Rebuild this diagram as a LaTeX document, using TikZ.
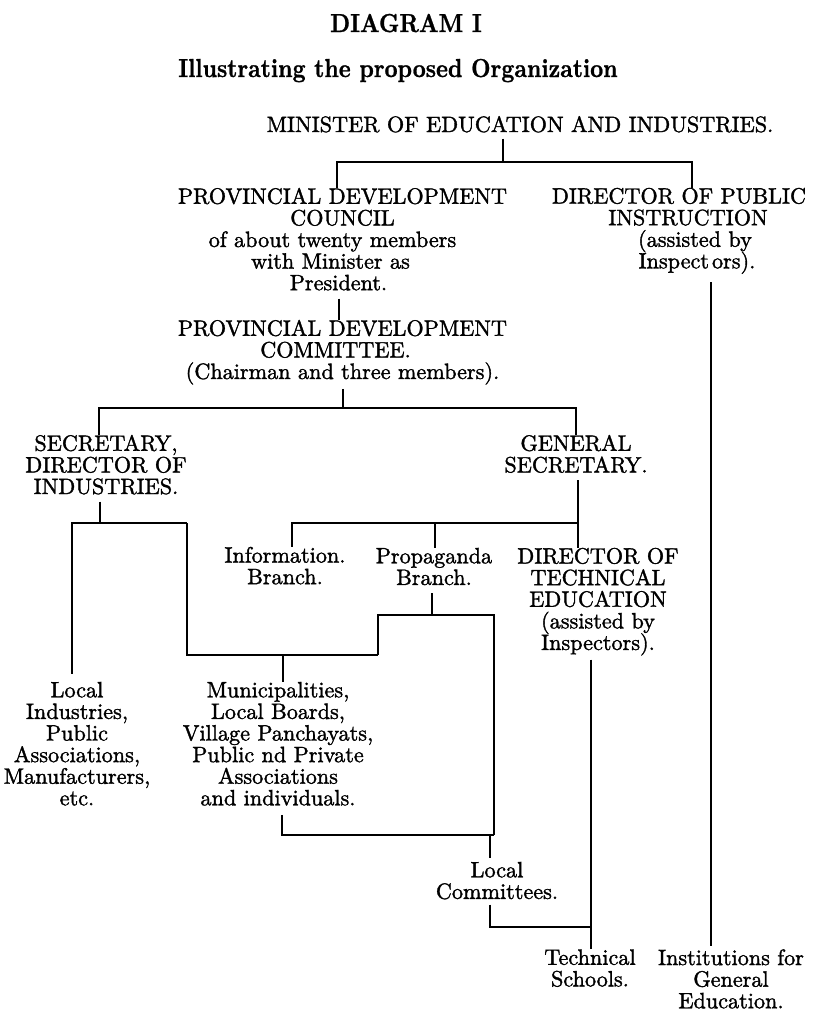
\documentclass[tikz,border=0pt]{standalone}
\usepackage{fontspec}
\newfontfamily\bodyrm{lmroman10-regular.otf}[FakeBold=1.5]
\newfontfamily\titlebf{lmroman10-bold.otf}[FakeBold=1]
\usetikzlibrary{calc}
\tikzset{
  body/.style={inner sep=0pt, align=center, font=\bodyrm\fontsize{22.2}{21.6}\selectfont},
  heading/.style={anchor=base, inner sep=0pt, font=\titlebf\fontsize{26}{28}\selectfont},
  link/.style={line width=1.1pt, line cap=butt},
}
\begin{document}
\lineskiplimit=-30pt
\begin{tikzpicture}[x=1pt,y=-1pt]
\useasboundingbox (0,0) rectangle (816,1013);
% titles
\node[heading] (title) at (406,32) {\scalebox{0.87}[1]{DIAGRAM I}};
\node[heading] (sub) at (398,77) {\scalebox{0.87}[1]{Illustrating the proposed Organization}};
% nodes
\node[body, anchor=base] (min) at (520,132) {MINISTER OF EDUCATION AND INDUSTRIES.};
\node[body, anchor=north] (pdc) at (342.5,187.7) {PROVINCIAL DEVELOPMENT\\COUNCIL\\\hspace*{-20pt}of about twenty members\\\hspace*{-24pt}with Minister as\\\hspace*{-8pt}President.};
\node[body, anchor=north] (dpi) at (679,187.7) {DIRECTOR OF PUBLIC\\\hspace*{18pt}INSTRUCTION\\\hspace*{32pt}(assisted by\\\hspace*{36pt}Inspect\hspace{3pt}ors).};
\node[body, anchor=north] (pdcom) at (342.5,319.7) {PROVINCIAL DEVELOPMENT\\\hspace*{-14pt}COMMITTEE.\\(Chairman and three members).};
\node[body, anchor=north] (sec) at (106,434.7) {SECRETARY,\\DIRECTOR OF\\INDUSTRIES.};
\node[body, anchor=north] (gen) at (576,434.7) {GENERAL\\SECRETARY.};
\node[body, anchor=north] (info) at (285,546.7) {Information.\\Branch.};
\node[body, anchor=north] (prop) at (434,547.7) {Propaganda\\Branch.};
\node[body, anchor=north] (dte) at (598,547.7) {DIRECTOR OF\\TECHNICAL\\EDUCATION\\(assisted by\\Inspectors).};
\node[body, anchor=north] (locind) at (77,681.7) {Local\\Industries,\\Public\\Associations,\\Manufacturers,\\etc.};
\node[body, anchor=north] (muni) at (278,681.7) {Municipalities,\\Local Boards,\\Village Panchayats,\\Public nd Private\\Associations\\and individuals.};
\node[body, anchor=north] (loccom) at (497,861.7) {Local\\Committees.};
\node[body, anchor=north] (tech) at (590,949.2) {Technical\\Schools.};
\node[body, anchor=north] (inst) at (731,949.2) {Institutions for\\General\\Education.};
% junction coordinates
\coordinate (j1) at (503,162);
\coordinate (j1l) at (337,162);
\coordinate (j1r) at (692,162);
\coordinate (k1) at (339,300);
\coordinate (j2) at (343,408);
\coordinate (j2l) at (99,408);
\coordinate (j2r) at (576,408);
\coordinate (j3) at (100,523);
\coordinate (j3l) at (72,523);
\coordinate (j3r) at (187,523);
\coordinate (j4l) at (187,655);
\coordinate (j4) at (283,655);
\coordinate (j4r) at (378,655);
\coordinate (g1) at (578,523);
\coordinate (g1l) at (292,523);
\coordinate (gp) at (435,523);
\coordinate (p1) at (432,615);
\coordinate (p1l) at (378,615);
\coordinate (p1r) at (494,615);
\coordinate (m1) at (282,835);
\coordinate (m1r) at (494,835);
\coordinate (lc) at (490,835);
\coordinate (t1) at (490,927);
\coordinate (t1r) at (591,927);
\coordinate (ip) at (711,600);
% connectors
\draw[link, shorten <=6pt] (min.south -| j1) -- (j1);
\draw[link] (pdc.north -| j1l) -- (j1l) -- (j1r) -- (dpi.north -| j1r);
\draw[link, shorten <=8pt] (pdc.south -| k1) -- (pdcom.north -| k1);
\draw[link, shorten <=4pt] (pdcom.south -| j2) -- (j2);
\draw[link] (sec.north -| j2l) -- (j2l) -- (j2r) -- (gen.north -| j2r);
\draw[link, shorten <=7pt] (sec.south -| j3) -- (j3);
\draw[link, shorten >=8pt] (j3r) -- (j3l) -- (locind.north -| j3l);
\draw[link] (j3r) -- (j4l) -- (j4r);
\draw[link] (j4) -- (muni.north -| j4);
\draw[link, shorten <=7pt] (gen.south -| g1) -- (g1);
\draw[link] (info.north -| g1l) -- (g1l) -- (g1) -- (dte.north -| g1);
\draw[link] (gp) -- (prop.north -| gp);
\draw[link, shorten <=8pt] (prop.south -| p1) -- (p1);
\draw[link] (j4r) -- (p1l) -- (p1r) -- (m1r);
\draw[link, shorten <=9pt] (muni.south -| m1) -- (m1) -- (m1r);
\draw[link, shorten >=4pt] (lc) -- (loccom.north -| lc);
\draw[link, shorten <=5pt] (loccom.south -| t1) -- (t1) -- (t1r);
\draw[link, shorten <=4pt] (dte.south -| t1r) -- (t1r) -- (tech.north -| t1r);
\draw[link, shorten <=8pt, shorten >=3pt] (dpi.south -| ip) -- (inst.north -| ip);
\end{tikzpicture}
\end{document}
